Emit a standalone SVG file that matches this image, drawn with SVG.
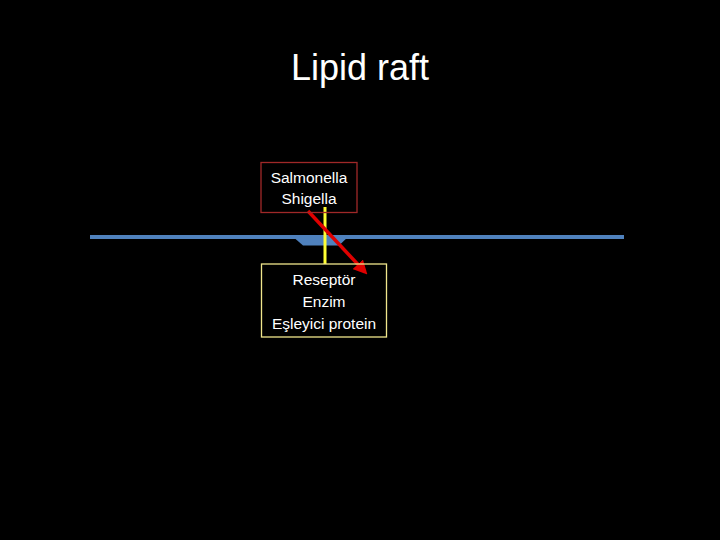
<svg xmlns="http://www.w3.org/2000/svg" width="720" height="540" viewBox="0 0 720 540">
<style>
.t{font-family:"Liberation Sans",Arial,sans-serif;fill:#ffffff;text-anchor:middle}
.lbl{font-size:15.5px}
</style>
<defs>
<marker id="ah" markerWidth="4" markerHeight="4" refX="3" refY="2" orient="auto" markerUnits="strokeWidth">
<path d="M0,0 L4,2 L0,4 z" fill="#e00000"/>
</marker>
</defs>
<rect width="720" height="540" fill="#000000"/>
<text class="t" x="360" y="80" font-size="36">Lipid raft</text>
<g id="membrane">
<rect x="90" y="235" width="534" height="4" fill="#4f81bd"/>
<polygon points="291,235 350,235 339,245.5 303,245.5" fill="#4f81bd"/>
</g>
<g id="connectors">
<line x1="325" y1="207" x2="325" y2="264" stroke="#ffff33" stroke-width="3"/>
<line x1="308" y1="211" x2="365" y2="272" stroke="#e00000" stroke-width="3.5" marker-end="url(#ah)"/>
</g>
<g id="pathogens">
<rect x="261" y="162.5" width="96" height="50" fill="none" stroke="#a02828" stroke-width="1.3"/>
<text class="t lbl" x="309" y="183">Salmonella</text>
<text class="t lbl" x="309" y="204">Shigella</text>
</g>
<g id="proteins">
<rect x="261.5" y="264" width="125" height="73" fill="none" stroke="#f0e68c" stroke-width="1.3"/>
<text class="t lbl" x="324" y="285">Reseptör</text>
<text class="t lbl" x="324" y="307">Enzim</text>
<text class="t lbl" x="324" y="329">Eşleyici protein</text>
</g>
</svg>
